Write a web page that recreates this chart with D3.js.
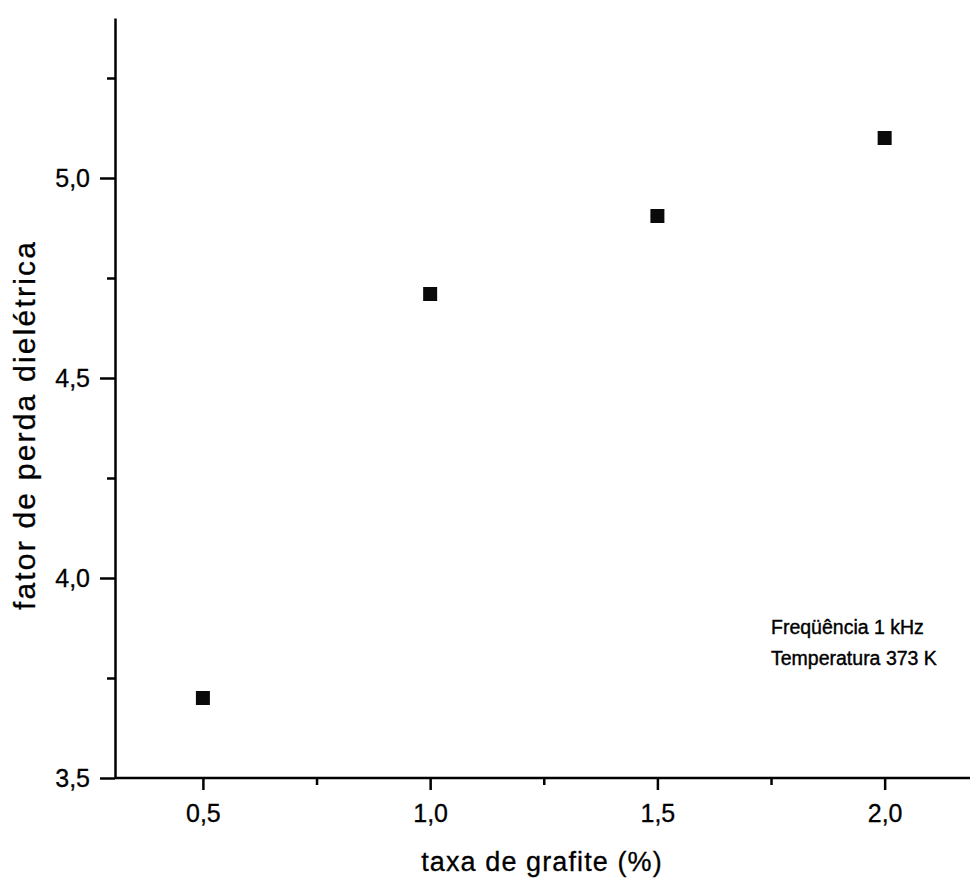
<!DOCTYPE html>
<html>
<head>
<meta charset="utf-8">
<script src="https://cdn.jsdelivr.net/npm/d3@7"></script>
<style>
  body { margin: 0; background: #fff; }
  svg text { font-family: "Liberation Sans", Arial, sans-serif; fill: #000; stroke: #000; stroke-width: 0.3px; }
  .axis path, .axis line { stroke: #000; stroke-width: 2.5; }
  .axis text { font-size: 25px; }
  .axis-title { font-size: 27px; }
  .note { font-size: 19.5px; stroke-width: 0.4px; }
</style>
</head>
<body>
<div id="chart"></div>
<script>
// graphite content (%) vs dielectric loss factor
const taxa = [0.5, 1.0, 1.5, 2.0];
const fator = [3.70, 4.71, 4.905, 5.10];
const xMajor = [0.5, 1.0, 1.5, 2.0];
const xMinor = [0.75, 1.25, 1.75];
const yMajor = [3.5, 4.0, 4.5, 5.0];
const yMinor = [3.75, 4.25, 4.75, 5.25];
const notas = ["Freqüência 1 kHz", "Temperatura 373 K"];

const width = 970, height = 886;
const mLeft = 115, mBottom = 778;
const fmt = (d) => d3.format(".1f")(d).replace(".", ",");

const x = d3.scaleLinear([0.3, 2.2], [112, 112 + 1.9 * 454.5]);
const y = d3.scaleLinear([3.5, 5.4], [mBottom, mBottom - 1.9 * 400]);

const svg = d3.select("#chart").append("svg")
  .attr("width", width).attr("height", height);

// x axis: major labelled ticks + minor ticks
const gx = svg.append("g").attr("class", "axis")
  .attr("transform", `translate(0,${mBottom})`)
  .call(d3.axisBottom(x).tickValues(xMajor).tickFormat(fmt).tickSize(12).tickSizeOuter(0).tickPadding(14));
gx.select(".domain").attr("d", `M${mLeft},0H${width}`);
svg.append("g").attr("class", "axis")
  .attr("transform", `translate(0,${mBottom})`)
  .call(d3.axisBottom(x).tickValues(xMinor).tickFormat("").tickSize(7).tickSizeOuter(0))
  .select(".domain").remove();

// y axis
svg.append("g").attr("class", "axis")
  .attr("transform", `translate(${mLeft},0)`)
  .call(d3.axisLeft(y).tickValues(yMajor).tickFormat(fmt).tickSize(15).tickSizeOuter(0).tickPadding(10));
svg.append("g").attr("class", "axis")
  .attr("transform", `translate(${mLeft},0)`)
  .call(d3.axisLeft(y).tickValues(yMinor).tickFormat("").tickSize(8).tickSizeOuter(0))
  .select(".domain").remove();

// points
const s = 14;
svg.append("g").selectAll("rect").data(taxa).join("rect")
  .attr("x", (d) => x(d) - s / 2)
  .attr("y", (d, i) => y(fator[i]) - s / 2)
  .attr("width", s).attr("height", s)
  .attr("fill", "#0a0a0a");

// titles
svg.append("text").attr("class", "axis-title")
  .attr("x", 542).attr("y", 871).attr("text-anchor", "middle")
  .style("letter-spacing", "1.1px")
  .text("taxa de grafite (%)");
svg.append("text").attr("class", "axis-title")
  .attr("transform", "translate(35,425) rotate(-90)")
  .attr("text-anchor", "middle")
  .style("font-size", "30px").style("letter-spacing", "2.2px")
  .text("fator de perda dielétrica");

// annotation
svg.append("g").selectAll("text").data(notas).join("text")
  .attr("class", "note")
  .attr("x", 771).attr("y", (d, i) => 634 + i * 31)
  .text((d) => d);
</script>
</body>
</html>
